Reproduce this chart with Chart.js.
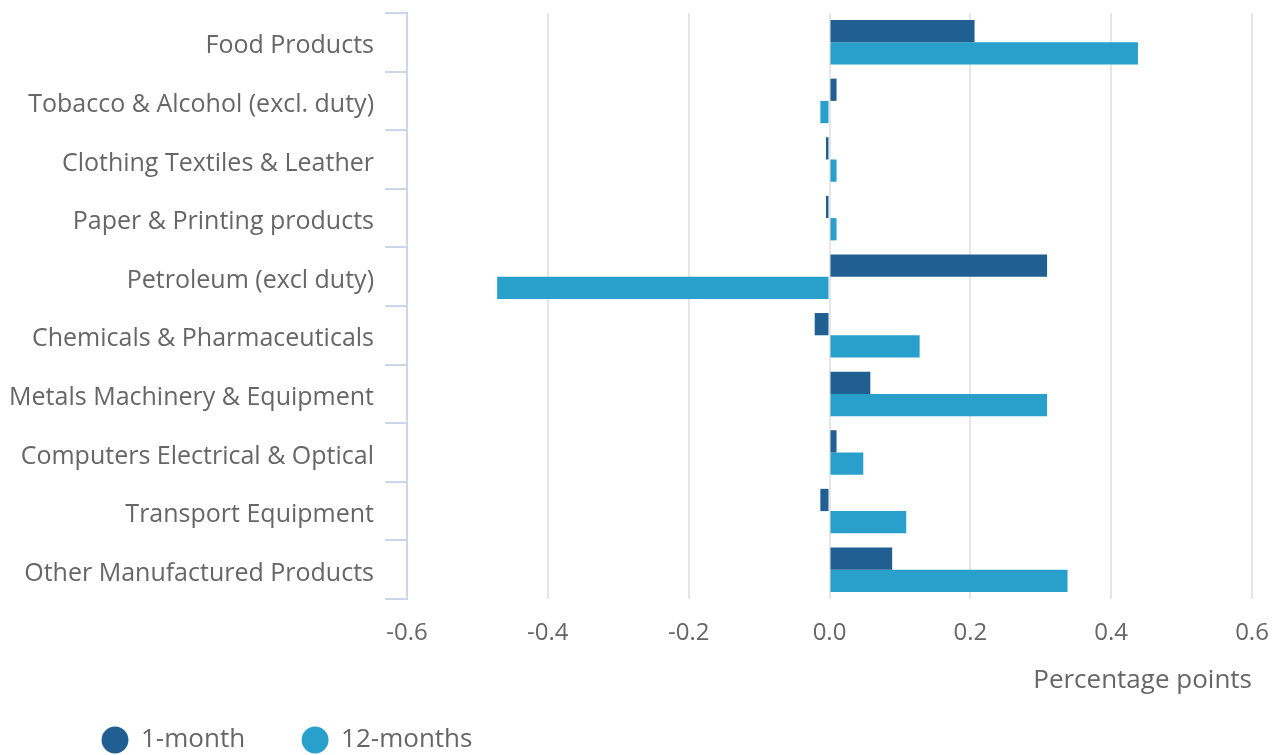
<!DOCTYPE html>
<html>
<head>
<meta charset="utf-8">
<script src="https://cdn.jsdelivr.net/npm/chart.js@4/dist/chart.umd.min.js"></script>
<style>
  html, body { margin: 0; padding: 0; background: #fff; overflow: hidden; }
  #wrap { width: 1280px; height: 792px; position: relative; }
</style>
</head>
<body>
<div id="wrap"><canvas id="ppiChart"></canvas></div>
<script>
// --- Data ---
const categories = [
  'Food Products',
  'Tobacco & Alcohol (excl. duty)',
  'Clothing Textiles & Leather',
  'Paper & Printing products',
  'Petroleum (excl duty)',
  'Chemicals & Pharmaceuticals',
  'Metals Machinery & Equipment',
  'Computers Electrical & Optical',
  'Transport Equipment',
  'Other Manufactured Products'
];
const oneMonth = [0.206, 0.010, -0.005, -0.005, 0.309, -0.021, 0.058, 0.010, -0.013, 0.089];
const twelveMonths = [0.438, -0.013, 0.010, 0.010, -0.472, 0.128, 0.309, 0.048, 0.109, 0.338];
const seriesNames = ['1-month', '12-months'];
const xTicks = [-0.6, -0.4, -0.2, 0.0, 0.2, 0.4, 0.6];

const textColor = '#666666';
const axisBlue = '#ccd6eb';
const font = 'Open Sans';

// legend sits closer to the axis title than its label padding allows, so nudge it up / right
const legendNudge = {
  id: 'legendNudge',
  afterLayout(chart) {
    const lg = chart.legend;
    if (!lg) return;
    lg.top -= 29;
    lg.bottom -= 29;
    lg.left += 45;
    lg.right += 45;
  }
};

const ctx = document.getElementById('ppiChart').getContext('2d');

new Chart(ctx, {
  type: 'bar',
  data: {
    labels: categories,
    datasets: [
      { label: seriesNames[0], data: oneMonth, backgroundColor: '#215f92', borderWidth: 0 },
      { label: seriesNames[1], data: twelveMonths, backgroundColor: '#28a0cb', borderWidth: 0 }
    ]
  },
  plugins: [legendNudge],
  options: {
    indexAxis: 'y',
    responsive: true,
    maintainAspectRatio: false,
    animation: false,
    datasets: { bar: { categoryPercentage: 0.76, barPercentage: 1 } },
    layout: { padding: { left: 0, right: 28, top: 13, bottom: 0 } },
    plugins: {
      tooltip: { enabled: false },
      legend: {
        position: 'bottom',
        align: 'start',
        labels: {
          usePointStyle: true,
          pointStyle: 'circle',
          boxHeight: 19,
          padding: 57,
          color: textColor,
          font: { family: font, size: 26 }
        }
      }
    },
    scales: {
      x: {
        min: xTicks[0],
        max: xTicks[xTicks.length - 1],
        afterBuildTicks: scale => { scale.ticks = xTicks.map(v => ({ value: v })); },
        afterFit: scale => { scale.paddingLeft = 0; scale.paddingRight = 0; },
        ticks: {
          color: textColor,
          padding: 20,
          font: { family: font, size: 24 },
          callback: v => Number(v).toFixed(1)
        },
        grid: { color: '#e6e6e6', lineWidth: 2, drawTicks: false },
        border: { display: false },
        title: {
          display: true,
          text: 'Percentage points',
          align: 'end',
          color: textColor,
          font: { family: font, size: 26 },
          padding: { top: -3, bottom: 3 }
        }
      },
      y: {
        afterFit: scale => {
          scale.width = 407;
          scale.paddingTop = 0;
          scale.paddingBottom = 0;
        },
        ticks: {
          color: textColor,
          padding: 11,
          labelOffset: 4,
          font: { family: font, size: 25 }
        },
        grid: { offset: true, drawOnChartArea: false, tickLength: 22, color: axisBlue, lineWidth: 2 },
        border: { color: axisBlue, width: 2 }
      }
    }
  }
});
</script>
</body>
</html>
